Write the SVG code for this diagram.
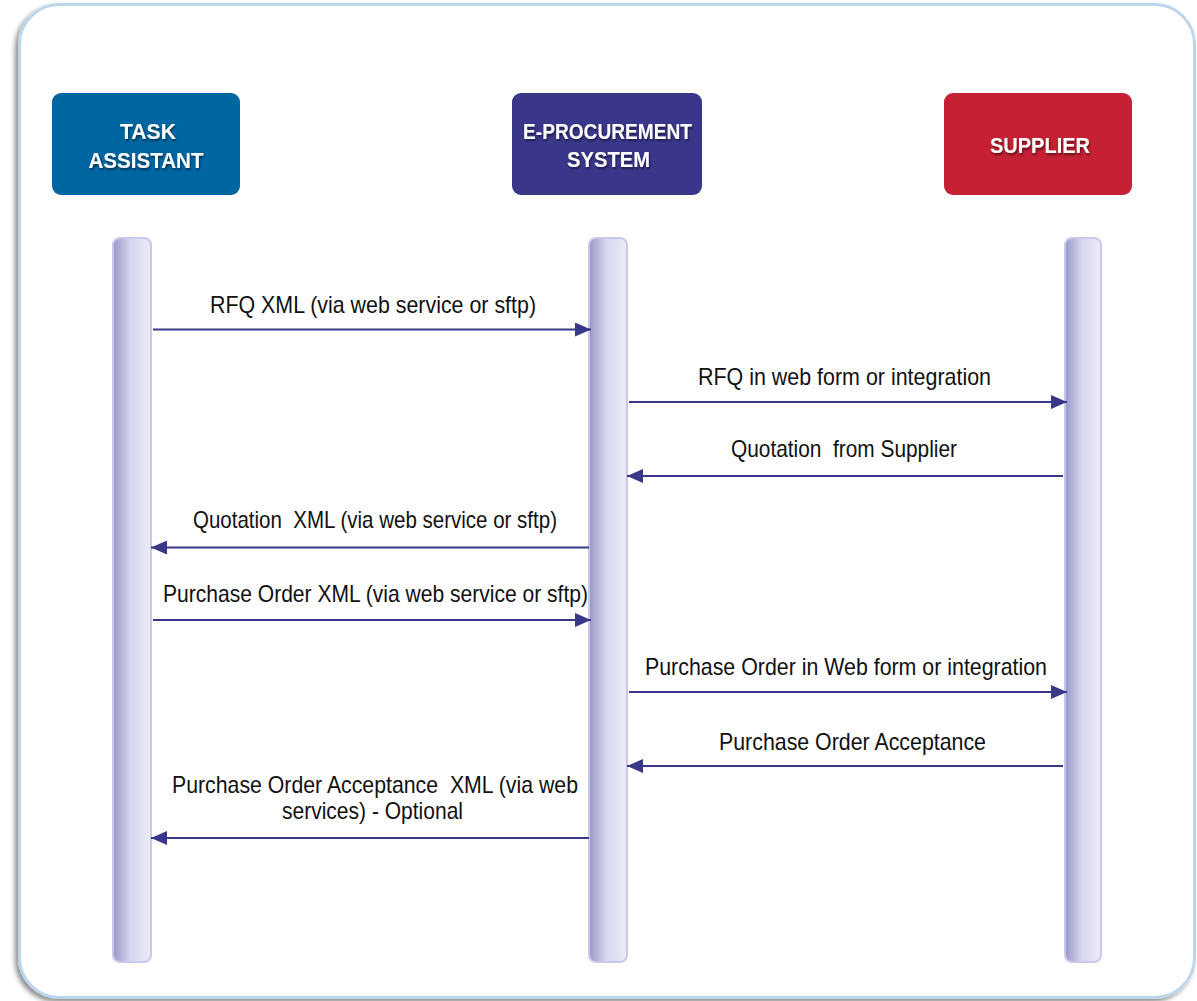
<svg xmlns="http://www.w3.org/2000/svg" width="1197" height="1001" viewBox="0 0 1197 1001">
  <defs>
    <filter id="frameShadow" x="-5%" y="-5%" width="110%" height="110%">
      <feGaussianBlur in="SourceAlpha" stdDeviation="2.5"/>
      <feOffset dx="-3" dy="3" result="b"/>
      <feComponentTransfer><feFuncA type="linear" slope="0.45"/></feComponentTransfer>
      <feMerge><feMergeNode/><feMergeNode in="SourceGraphic"/></feMerge>
    </filter>
    <filter id="textShadow" x="-10%" y="-20%" width="120%" height="150%">
      <feGaussianBlur in="SourceAlpha" stdDeviation="0.8"/>
      <feOffset dx="1" dy="1.5"/>
      <feComponentTransfer><feFuncA type="linear" slope="0.5"/></feComponentTransfer>
      <feMerge><feMergeNode/><feMergeNode in="SourceGraphic"/></feMerge>
    </filter>
    <linearGradient id="lifeGrad" x1="0" y1="0" x2="1" y2="0">
      <stop offset="0" stop-color="#9896c8"/>
      <stop offset="0.45" stop-color="#d6d6ee"/>
      <stop offset="1" stop-color="#ececf8"/>
    </linearGradient>
    <marker id="arrow" markerWidth="16" markerHeight="14" refX="16" refY="7" orient="auto" markerUnits="userSpaceOnUse">
      <path d="M0,0 L16,7 L0,14 Z" fill="#39378a"/>
    </marker>
  </defs>
  <style>
    .node-label { font-family: "Liberation Sans", Arial, sans-serif; font-weight: bold; font-size: 22px; fill: #ffffff; text-anchor: middle; }
    .msg { font-family: "Liberation Sans", Arial, sans-serif; font-size: 24px; fill: #111111; white-space: pre; }
    .conn { stroke: #39378a; stroke-width: 2.2; fill: none; marker-end: url(#arrow); }
    .lifeline { fill: url(#lifeGrad); stroke: #c9c8ec; stroke-width: 2; }
  </style>

  <rect x="0" y="0" width="1197" height="1001" fill="#ffffff"/>
  <rect id="frame" x="19.5" y="4.5" width="1175" height="993" rx="40" ry="40" fill="#ffffff" stroke="#bcd6ee" stroke-width="3" filter="url(#frameShadow)"/>

  <g id="task-assistant">
    <rect x="52" y="93" width="188" height="102" rx="9" fill="#0066a1"/>
    <g filter="url(#textShadow)">
      <text class="node-label" x="148" y="139" textLength="56" lengthAdjust="spacingAndGlyphs">TASK</text>
      <text class="node-label" x="146" y="168" textLength="115" lengthAdjust="spacingAndGlyphs">ASSISTANT</text>
    </g>
  </g>

  <g id="eprocurement">
    <rect x="512" y="93" width="190" height="102" rx="9" fill="#3a378a"/>
    <g filter="url(#textShadow)">
      <text class="node-label" x="607.5" y="139" textLength="169" lengthAdjust="spacingAndGlyphs">E-PROCUREMENT</text>
      <text class="node-label" x="608.5" y="167" textLength="83" lengthAdjust="spacingAndGlyphs">SYSTEM</text>
    </g>
  </g>

  <g id="supplier">
    <rect x="944" y="93" width="188" height="102" rx="9" fill="#c52033"/>
    <g filter="url(#textShadow)">
      <text class="node-label" x="1040" y="153" textLength="100" lengthAdjust="spacingAndGlyphs">SUPPLIER</text>
    </g>
  </g>

  <g id="lifelines">
    <rect class="lifeline" x="113" y="238" width="38" height="724" rx="7"/>
    <rect class="lifeline" x="589" y="238" width="38" height="724" rx="7"/>
    <rect class="lifeline" x="1065" y="238" width="36" height="724" rx="7"/>
  </g>

  <g id="connectors">
    <line class="conn" x1="153" y1="329.5" x2="591" y2="329.5"/>
    <line class="conn" x1="629" y1="402" x2="1067" y2="402"/>
    <line class="conn" x1="1063" y1="476" x2="627" y2="476"/>
    <line class="conn" x1="589" y1="547.5" x2="151" y2="547.5"/>
    <line class="conn" x1="153" y1="620" x2="591" y2="620"/>
    <line class="conn" x1="629" y1="692" x2="1067" y2="692"/>
    <line class="conn" x1="1063" y1="766" x2="627" y2="766"/>
    <line class="conn" x1="589" y1="838" x2="151" y2="838"/>
  </g>

  <g id="labels" xml:space="preserve">
    <text class="msg" x="210" y="313" textLength="326" lengthAdjust="spacingAndGlyphs">RFQ XML (via web service or sftp)</text>
    <text class="msg" x="698" y="385" textLength="293" lengthAdjust="spacingAndGlyphs">RFQ in web form or integration</text>
    <text class="msg" x="731" y="457" textLength="226" lengthAdjust="spacingAndGlyphs">Quotation  from Supplier</text>
    <text class="msg" x="193" y="528" textLength="364" lengthAdjust="spacingAndGlyphs">Quotation  XML (via web service or sftp)</text>
    <text class="msg" x="163" y="602" textLength="425" lengthAdjust="spacingAndGlyphs">Purchase Order XML (via web service or sftp)</text>
    <text class="msg" x="645" y="675" textLength="402" lengthAdjust="spacingAndGlyphs">Purchase Order in Web form or integration</text>
    <text class="msg" x="719" y="750" textLength="267" lengthAdjust="spacingAndGlyphs">Purchase Order Acceptance</text>
    <text class="msg" x="172" y="793" textLength="406" lengthAdjust="spacingAndGlyphs">Purchase Order Acceptance  XML (via web</text>
    <text class="msg" x="282" y="819" textLength="181" lengthAdjust="spacingAndGlyphs">services) - Optional</text>
  </g>
</svg>
